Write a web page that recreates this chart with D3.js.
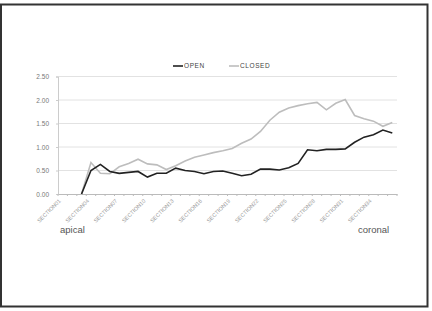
<!DOCTYPE html>
<html><head><meta charset="utf-8">
<script src="https://cdn.jsdelivr.net/npm/d3@7"></script>
<style>body{margin:0;background:#fff}svg{display:block}text{font-family:Arial,"Liberation Sans",sans-serif}</style>
</head><body><svg id="c" width="432" height="311"></svg>
<script>
const categories = d3.range(1, 37).map(i => "SECTION" + String(i).padStart(2, "0"));
const openValues = [null,null,0,0.50,0.63,0.48,0.44,0.46,0.48,0.36,0.44,0.44,0.55,0.50,0.48,0.43,0.48,0.49,0.44,0.39,0.42,0.53,0.53,0.51,0.56,0.65,0.94,0.92,0.95,0.95,0.96,1.10,1.21,1.26,1.36,1.30];
const closedValues = [null,null,0,0.67,0.44,0.43,0.58,0.65,0.74,0.64,0.62,0.52,0.60,0.70,0.78,0.83,0.88,0.92,0.97,1.08,1.17,1.33,1.57,1.74,1.83,1.88,1.92,1.95,1.79,1.93,2.01,1.67,1.60,1.55,1.44,1.52];
const yTicks = [0, 0.5, 1.0, 1.5, 2.0, 2.5];
const seriesNames = ["OPEN", "CLOSED"];

const svg = d3.select("#c");
svg.append("rect").attr("x", 1).attr("y", 4.5).attr("width", 426.5).attr("height", 302)
  .attr("fill", "none").attr("stroke", "#333").attr("stroke-width", 2);

const L = 58, R = 397, T = 76.5, B = 194;
const x = d3.scaleBand().domain(categories).range([L, R]);
const y = d3.scaleLinear().domain([0, 2.5]).range([B, T]);
const cx = d => x(d) + x.bandwidth() / 2;

// gridlines
svg.append("g").selectAll("line").data(yTicks.slice(1)).join("line")
  .attr("x1", L).attr("x2", R).attr("y1", d => y(d)).attr("y2", d => y(d))
  .attr("stroke", "#e2e2e2").attr("stroke-width", 1);

// y axis
const ya = svg.append("g").attr("transform", `translate(${L},0)`)
  .call(d3.axisLeft(y).tickValues(yTicks).tickFormat(d3.format(".2f")).tickSize(2).tickPadding(7));
ya.select(".domain").attr("stroke", "#ccc");
ya.selectAll(".tick line").attr("stroke", "#ccc");
ya.selectAll("text").attr("font-size", 6.5).attr("fill", "#777");

// x axis
const xa = svg.append("g").attr("transform", `translate(0,${B})`)
  .call(d3.axisBottom(x).tickSize(0).tickFormat(""));
xa.select(".domain").attr("stroke", "#bbb");
svg.append("g").selectAll("line").data(d3.range(categories.length + 1)).join("line")
  .attr("x1", i => L + i * x.step()).attr("x2", i => L + i * x.step())
  .attr("y1", B).attr("y2", B + 2).attr("stroke", "#bbb");
svg.append("g").selectAll("text").data(categories.filter((d, i) => i % 3 === 0)).join("text")
  .attr("transform", d => `translate(${cx(d) - 3},${B + 6}) rotate(-45)`)
  .attr("text-anchor", "end").attr("dy", "0.35em")
  .attr("font-size", 5.5).attr("fill", "#999").text(d => d);

const line = vals => d3.line().defined(d => d !== null)
  .x((d, i) => cx(categories[i])).y(d => y(d))(vals);
svg.append("path").attr("d", line(closedValues)).attr("fill", "none")
  .attr("stroke", "#bdbdbd").attr("stroke-width", 1.6);
svg.append("path").attr("d", line(openValues)).attr("fill", "none")
  .attr("stroke", "#222").attr("stroke-width", 1.6);

// legend
const leg = [{n: seriesNames[0], x: 173, c: "#222"}, {n: seriesNames[1], x: 229, c: "#bdbdbd"}];
const lg = svg.append("g").selectAll("g").data(leg).join("g");
lg.append("line").attr("x1", d => d.x).attr("x2", d => d.x + 10).attr("y1", 66).attr("y2", 66)
  .attr("stroke", d => d.c).attr("stroke-width", 1.6);
lg.append("text").attr("x", d => d.x + 11).attr("y", 66).attr("dy", "0.35em")
  .attr("font-size", 6.5).attr("letter-spacing", 0.6).attr("fill", "#444").text(d => d.n);

svg.append("text").attr("x", 60).attr("y", 233).attr("font-size", 9.5).attr("fill", "#555").text("apical");
svg.append("text").attr("x", 358).attr("y", 233).attr("font-size", 9.5).attr("fill", "#555").text("coronal");
</script></body></html>
